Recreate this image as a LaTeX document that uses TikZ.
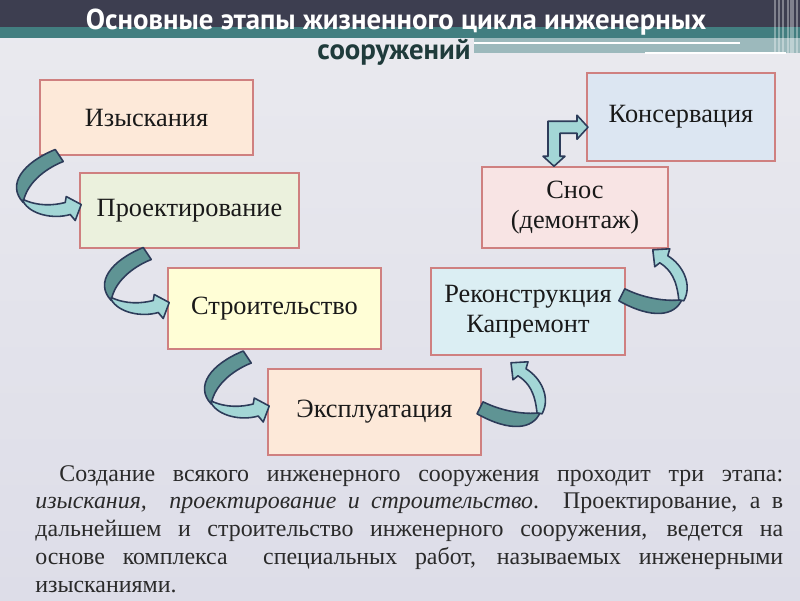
\documentclass[tikz,border=0pt]{standalone}
\usepackage{fontspec}
\setmainfont{Liberation Serif}
\newfontfamily\headfont{PT Sans}
\usetikzlibrary{calc}
\definecolor{bgTop}{HTML}{EAEAEF}
\definecolor{bgMid}{HTML}{D0D0E1}
\definecolor{bgBottom}{HTML}{DDDDE8}
\definecolor{barDark}{HTML}{3D3E50}
\definecolor{barTeal}{HTML}{427E80}
\definecolor{barLight}{HTML}{9CB9BC}
\definecolor{titleDark}{HTML}{1F3B3B}
\definecolor{boxLine}{HTML}{CF8080}
\definecolor{arrowLine}{HTML}{2D3C5A}
\definecolor{arrowDark}{HTML}{5F9494}
\definecolor{arrowLight}{HTML}{A3D6D6}
\definecolor{fillPeach}{HTML}{FDE9D9}
\definecolor{fillGreen}{HTML}{EBF1DD}
\definecolor{fillYellow}{HTML}{FFFED6}
\definecolor{fillBlue}{HTML}{DBEEF3}
\definecolor{fillPink}{HTML}{F8E4E4}
\definecolor{fillLilac}{HTML}{DCE6F2}
\definecolor{bodyText}{HTML}{2A2A2A}
\begin{document}
\begin{tikzpicture}[x=0.02cm,y=-0.02cm,
  stage/.style={draw=boxLine, line width=0.9pt, inner sep=0pt, align=center,
    font=\fontsize{15}{17}\selectfont, text=black!90},
  headline/.style={font=\headfont\bfseries\fontsize{16.4}{19}\selectfont, anchor=base},
  backband/.style={fill=arrowDark, draw=arrowLine, line width=0.9pt, line join=round},
  frontband/.style={fill=arrowLight, draw=arrowLine, line width=0.9pt, line join=round},
  turndown/.pic={
    \path[backband] (-26,-55) .. controls (-58,-42) and (-75,-20) .. (-58,-2)
      .. controls (-55,-20) and (-38,-35) .. (-18,-43) -- cycle;
    \path[frontband] (-58,-5) .. controls (-43,2) and (-28,1) .. (-16,-2) -- (-15,-8)
      -- (0,0) -- (-6,16) -- (-11,10) .. controls (-28,15) and (-51,10) .. (-58,-3) -- cycle;
  },
  turnup/.pic={
    \path[backband] (-28,39) .. controls (-10,48) and (12,52) .. (29,50)
      .. controls (22,66) and (0,70) .. (-34,51) -- cycle;
    \path[frontband] (7,13) .. controls (18,20) and (24,30) .. (26,50) -- (31,51)
      .. controls (40,35) and (30,15) .. (15,6) -- (17,-1) -- (0,0) -- (2,17) -- cycle;
  }]
\useasboundingbox (0,0) rectangle (800,600);
\shade[top color=bgTop, middle color=bgMid, bottom color=bgBottom] (0,0) rectangle (800,600);

% title bar
\fill[barDark] (0,0) rectangle (800,27);
\fill[barTeal] (0,27) rectangle (800,38);
\fill[barLight] (474,38) rectangle (800,53);
\draw[white, line width=1.5pt] (474,43) -- (740,43);
\draw[white, line width=1.6pt] (645,53) -- (786,53);
\foreach \xx/\ww in {775/1.2,779/0.6,783/1.5,788/0.8,792/1.8,797/1}
  \draw[white, opacity=0.35, line width=\ww pt] (\xx,0) -- (\xx,53);
\node[headline, text=white] (head) at (396,29) {Основные этапы жизненного цикла инженерных};
\node[headline, text=titleDark] (headb) at (394,59) {сооружений};

% stages
\node[stage, fill=fillPeach, minimum width=4.26cm, minimum height=1.5cm] (izysk) at (146.5,117.5) {Изыскания};
\node[stage, fill=fillGreen, minimum width=4.38cm, minimum height=1.5cm] (proekt) at (189.5,210.5) {Проектирование};
\node[stage, fill=fillYellow, minimum width=4.26cm, minimum height=1.62cm] (stroi) at (274.5,308.5) {Строительство};
\node[stage, fill=fillPeach, minimum width=4.26cm, minimum height=1.72cm] (ekspl) at (374.5,412) {Эксплуатация};
\node[stage, fill=fillBlue, minimum width=3.88cm, minimum height=1.74cm] (rekon) at (528,311.5) {Реконструкция\\Капремонт};
\node[stage, fill=fillPink, minimum width=3.72cm, minimum height=1.62cm] (snos) at (575,207.5) {Снос\\(демонтаж)};
\node[stage, fill=fillLilac, minimum width=3.76cm, minimum height=1.76cm] (konserv) at (681,117) {Консервация};

% arrows
\pic at ($(proekt.west)+(2,-6)$) {turndown};
\pic at ($(stroi.west)+(2,-6)$) {turndown};
\pic at ($(ekspl.west)+(2,-6)$) {turndown};
\pic at ($(rekon.south)+(-17,7)$) {turnup};
\pic at ($(snos.south east)+(-16,1)$) {turnup};
\path[frontband] ($(snos.north)+(-21,0)$) -- ++(-11,-10) -- ++(5,0) -- ++(0,-35) -- ++(29,0)
  -- ++(0,-6) -- ++(11,12) -- ++(-11,12) -- ++(0,-6) -- ++(-17,0) -- ++(0,23) -- ++(5,0) -- cycle;

% text
\node[anchor=north west, inner sep=0pt, text width=14.96cm, align=justify, text=bodyText,
  font=\fontsize{13.6}{15.8}\selectfont] (note) at (35,465)
  {\hspace*{0.48cm}Создание всякого инженерного сооружения проходит три этапа:\linebreak
   \textit{изыскания,\ \ проектирование и строительство}. Проектирование, а в\linebreak
   дальнейшем и строительство инженерного сооружения, ведется на\linebreak
   основе комплекса\ \ специальных работ, называемых инженерными\linebreak
   изысканиями.};
\end{tikzpicture}
\end{document}
